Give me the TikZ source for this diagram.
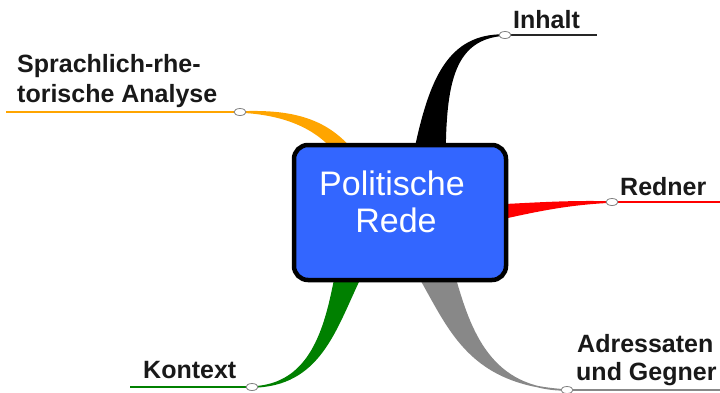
\documentclass[tikz,border=0pt]{standalone}
\usepackage{fontspec}
\setmainfont{Liberation Sans}
\usetikzlibrary{shapes.geometric}
\definecolor{boxblue}{RGB}{51,102,255}
\definecolor{borange}{RGB}{255,165,0}
\definecolor{bgreen}{RGB}{0,128,0}
\definecolor{bgray}{RGB}{136,136,136}
\definecolor{bred}{RGB}{255,0,0}
\begin{document}
\begin{tikzpicture}[x=1pt,y=-1pt,
  lbl/.style={anchor=base west, font=\bfseries\fontsize{25}{28}\selectfont, text=black!90, inner sep=0pt},
  ttl/.style={anchor=base, font=\fontsize{34}{37}\selectfont, text=white, inner sep=0pt},
  dot/.style={ellipse, draw=black!50, fill=white, line width=0.8pt, minimum width=12pt, minimum height=7pt, inner sep=0pt},
  stem/.style={line width=2pt},
  branch/.style={line width=1.5pt, line join=round},
  centerbox/.style={draw=black, line width=4.5pt, rounded corners=14pt, fill=boxblue, minimum width=212pt, minimum height=135pt, inner sep=0pt},
]
\useasboundingbox (0,0) rectangle (720,392);
% branch tips (dot positions)
\coordinate (pInh) at (505,35);
\coordinate (pRed) at (612,202);
\coordinate (pSpr) at (240,112);
\coordinate (pKon) at (252,387);
\coordinate (pAdr) at (567,390);
% free ends of stems
\coordinate (eInh) at (597,35);
\coordinate (eRed) at (720,202);
\coordinate (eSpr) at (6,112);
\coordinate (eKon) at (130,387);
\coordinate (eAdr) at (720,390);
% stems
\draw[stem, black!85] (pInh) -- (eInh);
\draw[stem, bred] (pRed) -- (eRed);
\draw[stem, borange] (eSpr) -- (pSpr);
\draw[stem, bgreen] (eKon) -- (pKon);
\draw[stem, bgray] (pAdr) -- (eAdr);
% tapered branches
\filldraw[branch, black] (pInh) .. controls (448,34) and (430,80) .. (415,150) -- (445,150) .. controls (446,80) and (455,38) .. (pInh) -- cycle;
\filldraw[branch, bred] (pRed) .. controls (570,201) and (540,203) .. (500,205) -- (500,219) .. controls (540,210) and (570,204) .. (pRed) -- cycle;
\filldraw[branch, borange] (pSpr) .. controls (290,110) and (325,118) .. (352,150) -- (334,150) .. controls (315,128) and (285,114) .. (pSpr) -- cycle;
\filldraw[branch, bgreen] (pKon) .. controls (310,385) and (325,330) .. (335,278) -- (360,278) .. controls (335,330) and (320,386) .. (pKon) -- cycle;
\filldraw[branch, bgray] (pAdr) .. controls (470,385) and (450,330) .. (420,278) -- (455,278) .. controls (470,330) and (490,390) .. (pAdr) -- cycle;
% center box
\node[centerbox] (box) at (400,212.5) {};
\node[ttl] (t1) at (392,195) {Politische};
\node[ttl] (t2) at (396,232) {Rede};
% dots
\node[dot] (dInh) at (pInh) {};
\node[dot] (dRed) at (pRed) {};
\node[dot] (dSpr) at (pSpr) {};
\node[dot] (dKon) at (pKon) {};
\node[dot] (dAdr) at (pAdr) {};
% labels
\node[lbl] (lInh) at (513,28) {Inhalt};
\node[lbl] (lRed) at (620,195) {Redner};
\node[lbl] (lSpr1) at (17,72) {Sprachlich-rhe-};
\node[lbl] (lSpr2) at (17,102) {torische Analyse};
\node[lbl] (lKon) at (143,378) {Kontext};
\node[lbl] (lAdr1) at (577,352) {Adressaten};
\node[lbl] (lAdr2) at (576,380) {und Gegner};
\end{tikzpicture}
\end{document}
